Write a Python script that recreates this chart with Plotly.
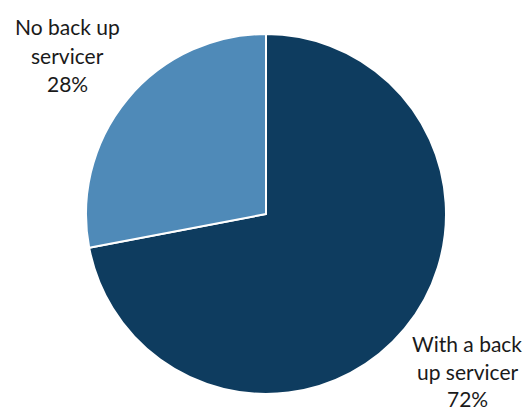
import plotly.graph_objects as go

categories = ["With a back up servicer", "No back up servicer"]
shares = [72, 28]
label_lines = [["With a back", "up servicer"], ["No back up", "servicer"]]
colors = ["#0E3C5F", "#4F8AB8"]

W, H = 525, 414
fig = go.Figure(go.Pie(
    labels=categories, values=shares, sort=False, direction="clockwise", rotation=0,
    marker=dict(colors=colors, line=dict(color="white", width=2)),
    textinfo="none", hoverinfo="label+percent", showlegend=False,
    domain=dict(x=[86 / W, 446 / W], y=[(H - 394) / H, (H - 34) / H]),
))

# label positions (pixel centers)
label_pos = [(467, [343, 371, 398]), (67, [26, 55, 83])]
font = dict(family="Lato, Open Sans, sans-serif", size=21, color="#1a1a1a")
for (cx, ys), lines, v in zip(label_pos, label_lines, shares):
    texts = lines + [f"{v}%"]
    for t, y in zip(texts, ys):
        fig.add_annotation(x=cx / W, y=1 - y / H, xref="paper", yref="paper",
                           text=t, showarrow=False, xanchor="center", yanchor="middle",
                           font=font, borderpad=0)

fig.update_layout(width=W, height=H, margin=dict(l=0, r=0, t=0, b=0),
                  paper_bgcolor="white", plot_bgcolor="white")
fig.write_html("out.html", config={"displayModeBar": False},
               post_script="document.body.style.margin='0';document.body.style.overflow='hidden';")
